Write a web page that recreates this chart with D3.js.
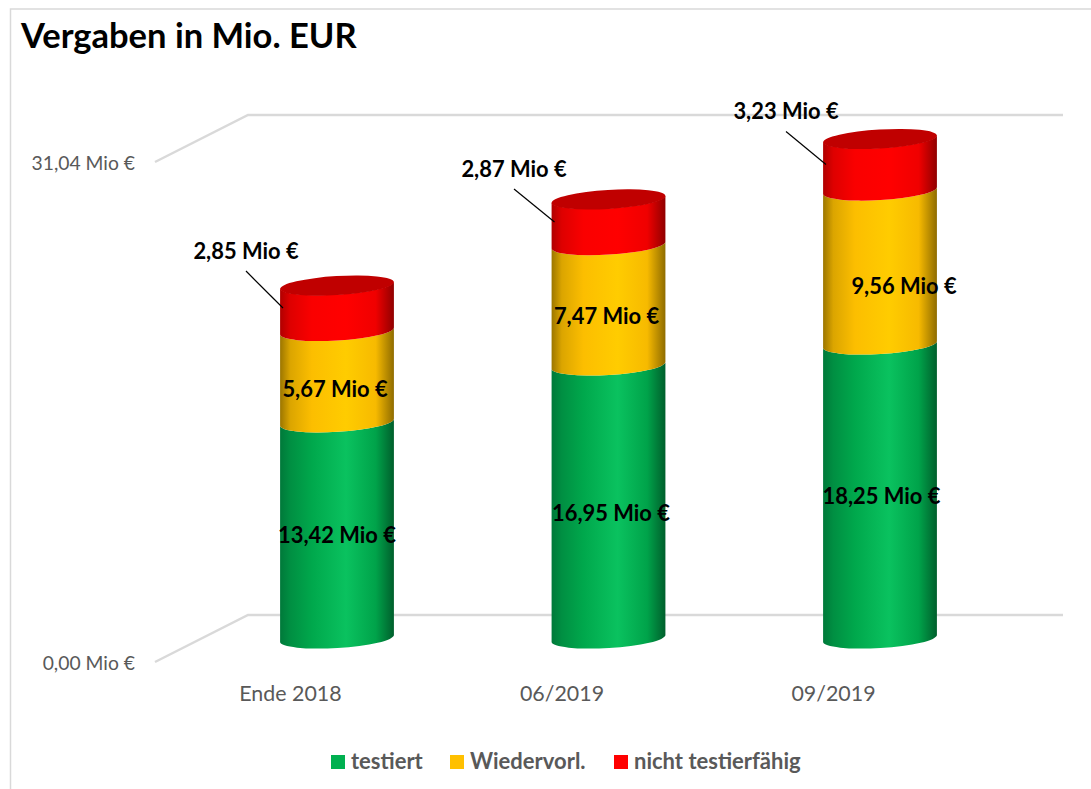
<!DOCTYPE html>
<html>
<head>
<meta charset="utf-8">
<script src="https://cdn.jsdelivr.net/npm/d3@7"></script>
<style>
    html, body { margin: 0; padding: 0; background: #fff; overflow: hidden; }
    text { font-family: Lato, "Open Sans", sans-serif; }
</style>
</head>
<body>
<svg id="chart" width="1091" height="789"></svg>
<script>
const categories = ["Ende 2018", "06/2019", "09/2019"];
const seriesNames = ["testiert", "Wiedervorl.", "nicht testierfähig"];
const testiert = [13.42, 16.95, 18.25];
const wiedervorl = [5.67, 7.47, 9.56];
const nichtTestierfaehig = [2.85, 2.87, 3.23];
const axisTicks = [0, 31.04];

const svg = d3.select("#chart");
const fmt = v => v.toFixed(2).replace(".", ",") + " Mio €";

//3D depth of the chart floor
const depthX = 93, depthY = 47;

const x = d3.scaleBand().domain(categories).range([201.25, 1015.75]).paddingInner(0.58).paddingOuter(0.29);
const y = d3.scaleLinear().domain([0, 31.04]).range([662, 162]);

//Frame
svg.append("path")
    .attr("d", "M1091,9 H10.5 V789")
    .attr("fill", "none")
    .attr("stroke", "#d9d9d9")
    .attr("stroke-width", 1.5);

//Title
svg.append("text")
    .attr("x", 21).attr("y", 48)
    .attr("font-size", 34.5).attr("font-weight", 700).attr("fill", "#000")
    .text("Vergaben in Mio. EUR");

//Grid
axisTicks.forEach(t => {
    svg.append("path")
        .attr("d", `M155,${y(t)} L${155 + depthX},${y(t) - depthY} H1063`)
        .attr("fill", "none")
        .attr("stroke", "#d9d9d9")
        .attr("stroke-width", 2.5);
});

//Axes
const yAxis = svg.append("g")
    .attr("transform", "translate(135,1.5)")
    .call(d3.axisLeft(y).tickValues(axisTicks).tickFormat(fmt).tickSize(0).tickPadding(0));
const xAxis = svg.append("g")
    .attr("transform", `translate(${-depthX / 2},694)`)
    .call(d3.axisBottom(x).tickSize(0).tickPadding(0));
[yAxis, xAxis].forEach(a => {
    a.select(".domain").remove();
    a.selectAll("text")
        .attr("font-family", "Lato")
        .attr("fill", "#595959");
});
yAxis.selectAll("text").attr("font-size", 19.3);
xAxis.selectAll("text").attr("font-size", 21.4).attr("y", 0).attr("dy", "0.32em");

//Gradients, dark at the rims, lit a bit right of the middle
const gradientOffsets = ["0%", "9%", "28%", "58%", "84%", "100%"];
const gradientStops = [
    ["#00793a", "#008f42", "#00a84c", "#0ac25f", "#00a34a", "#005f2c"],
    ["#9c7600", "#dba500", "#fcbe00", "#ffcc00", "#f7ba00", "#8f6c00"],
    ["#b00000", "#de0000", "#fa0000", "#ff0000", "#f00000", "#900000"]
];
const legendColors = ["#00b050", "#ffc000", "#ff0000"];
const defs = svg.append("defs");
gradientStops.forEach((stops, j) => {
    const g = defs.append("linearGradient").attr("id", `g${j}`);
    stops.forEach((c, k) => {
        g.append("stop").attr("offset", gradientOffsets[k]).attr("stop-color", c);
    });
});

//Cylinders
const series = [testiert, wiedervorl, nichtTestierfaehig];
const rx = x.bandwidth() / 2, ry = 9.5, tilt = -3.5;
const dxTilt = rx * Math.cos(tilt * Math.PI / 180);
const dyTilt = rx * Math.sin(tilt * Math.PI / 180);
const yBar = v => y(v) - depthY / 2;

function band(cx, v0, v1) {
    const y0 = yBar(v0), y1 = yBar(v1);
    return `M${cx - dxTilt},${y1 - dyTilt}`
        + `A${rx},${ry} ${tilt} 0 0 ${cx + dxTilt},${y1 + dyTilt}`
        + `L${cx + dxTilt},${y0 + dyTilt}`
        + `A${rx},${ry} ${tilt} 0 1 ${cx - dxTilt},${y0 - dyTilt}Z`;
}

categories.forEach((cat, i) => {
    const cx = x(cat) + rx;
    let base = 0;
    series.forEach((s, j) => {
        svg.append("path")
            .attr("d", band(cx, base, base + s[i]))
            .attr("fill", `url(#g${j})`);
        base += s[i];
    });
    svg.append("ellipse")
        .attr("rx", rx).attr("ry", ry)
        .attr("transform", `translate(${cx},${yBar(base) + 0.5}) rotate(${tilt})`)
        .attr("fill", "#c00000");
});

//Data labels, nudged off the middle of each band like the original
const labelNudgeX = [[0, 2.5, 1.5], [-2, -2, 24], [-91, -94.5, -94]];
const labelNudgeY = [[5, 11, 5], [13, 11.5, 19], [-57, -53, -53]];

categories.forEach((cat, i) => {
    const cx = x(cat) + rx;
    let base = 0;
    series.forEach((s, j) => {
        const mid = yBar(base + s[i] / 2);
        const lx = cx + labelNudgeX[j][i], ly = mid + labelNudgeY[j][i];
        if (j === 2) {
            svg.append("line")
                .attr("x1", lx).attr("y1", ly + 20)
                .attr("x2", x(cat) + 3).attr("y2", mid)
                .attr("stroke", "#000").attr("stroke-width", 1.2);
        }
        svg.append("text")
            .attr("x", lx).attr("y", ly)
            .attr("dy", "0.35em")
            .attr("text-anchor", "middle")
            .attr("font-size", 21.9).attr("font-weight", 700).attr("fill", "#000")
            .text(fmt(s[i]));
        base += s[i];
    });
});

//Legend
const legendX = [331, 450, 614];
seriesNames.forEach((name, i) => {
    svg.append("rect")
        .attr("x", legendX[i]).attr("y", 755)
        .attr("width", 14).attr("height", 14)
        .attr("fill", legendColors[i]);
    svg.append("text")
        .attr("x", legendX[i] + 20).attr("y", 769)
        .attr("font-size", 22).attr("font-weight", 700).attr("fill", "#595959")
        .text(name);
});
</script>
</body>
</html>
